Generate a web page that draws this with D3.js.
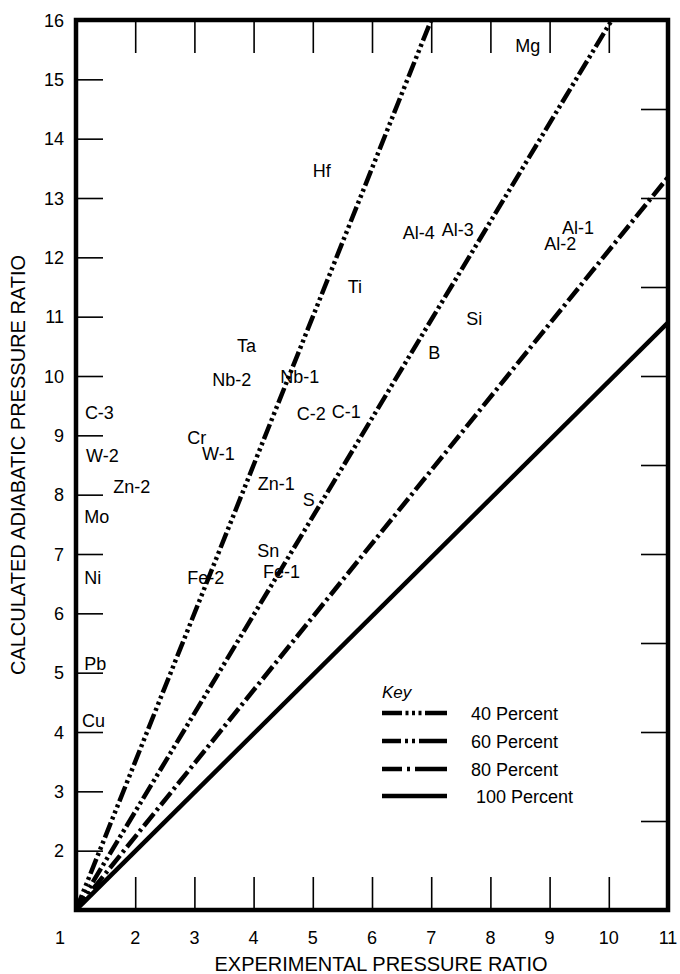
<!DOCTYPE html>
<html>
<head>
<meta charset="utf-8">
<script src="https://cdn.jsdelivr.net/npm/d3@7"></script>
<style>
  html, body { margin: 0; padding: 0; background: #fff; }
  svg { display: block; font-family: "Liberation Sans", Arial, sans-serif; }
</style>
</head>
<body>
<svg id="chart" width="680" height="974"></svg>
<script>
// ---------------- data ----------------
const xTickValues = [2, 3, 4, 5, 6, 7, 8, 9, 10];
const xTickLabels = [1, 2, 3, 4, 5, 6, 7, 8, 9, 10, 11];
const yTickValues = [2, 3, 4, 5, 6, 7, 8, 9, 10, 11, 12, 13, 14, 15];
const yTickLabels = [2, 3, 4, 5, 6, 7, 8, 9, 10, 11, 12, 13, 14, 15, 16];
const rightTickValues = [2.5, 4, 5.5, 7, 8.5, 10, 11.5, 13, 14.5];

const seriesNames = ["40 Percent", "60 Percent", "80 Percent", "100 Percent"];
const line40 = [[1, 1], [7.0, 16]];
const line60 = [[1, 1], [10.05, 16]];
const line80 = [[1, 1], [11, 13.35]];
const line100 = [[1, 1], [11, 10.9]];

const labelNames = ["Mg","Hf","Al-4","Al-3","Al-1","Al-2","Ti","Si","Ta","B","Nb-2","Nb-1",
  "C-3","C-2","C-1","Cr","W-2","W-1","Zn-1","Zn-2","S","Mo","Sn","Fe-1","Fe-2","Ni","Pb","Cu"];
const labelX = [8.42,5.00,6.52,7.18,9.21,8.91,5.59,7.59,3.72,6.95,3.30,4.45,
  1.15,4.73,5.32,2.88,1.17,3.13,4.07,1.63,4.83,1.14,4.06,4.16,2.88,1.14,1.14,1.10];
const labelY = [15.46,13.35,12.31,12.36,12.40,12.12,11.40,10.86,10.41,10.29,9.83,9.88,
  9.28,9.26,9.29,8.85,8.55,8.58,8.08,8.03,7.81,7.52,6.95,6.60,6.49,6.49,5.05,4.08];

// ---------------- layout ----------------
const svg = d3.select("#chart");
const L = 76, R = 668, T = 20, B = 910;
const x = d3.scaleLinear().domain([1, 11]).range([L, R]);
const y = d3.scaleLinear().domain([1, 16]).range([B, T]);

svg.append("defs").append("clipPath").attr("id", "plotclip")
  .append("rect").attr("x", L).attr("y", T).attr("width", R - L).attr("height", B - T);

// ---------------- axes (ticks) ----------------
const tickStyle = g => {
  g.select(".domain").remove();
  g.selectAll(".tick line").attr("stroke", "#000").attr("stroke-width", 1.6);
  g.selectAll(".tick text").remove();
};
svg.append("g").attr("transform", `translate(0,${B})`)
  .call(d3.axisTop(x).tickValues(xTickValues).tickSize(33)).call(tickStyle);
svg.append("g").attr("transform", `translate(0,${T})`)
  .call(d3.axisBottom(x).tickValues(xTickValues).tickSize(33)).call(tickStyle);
svg.append("g").attr("transform", `translate(${L},0)`)
  .call(d3.axisRight(y).tickValues(yTickValues).tickSize(27)).call(tickStyle);
svg.append("g").attr("transform", `translate(${R},0)`)
  .call(d3.axisLeft(y).tickValues(rightTickValues).tickSize(27)).call(tickStyle);

// tick labels
svg.append("g").selectAll("text").data(xTickLabels).join("text")
  .attr("x", d => d === 1 ? x(d) - 16 : x(d))
  .attr("y", 944)
  .attr("text-anchor", "middle")
  .attr("font-size", 18)
  .text(d => d);
svg.append("g").selectAll("text").data(yTickLabels).join("text")
  .attr("x", 64)
  .attr("y", d => y(d) + 6.5)
  .attr("text-anchor", "end")
  .attr("font-size", 18)
  .text(d => d);

// axis titles
svg.append("text").attr("x", 381).attr("y", 971).attr("text-anchor", "middle")
  .attr("font-size", 20).text("EXPERIMENTAL PRESSURE RATIO");
svg.append("text").attr("transform", `translate(25,${(T + B) / 2}) rotate(-90)`)
  .attr("text-anchor", "middle").attr("font-size", 20)
  .text("CALCULATED ADIABATIC PRESSURE RATIO");

// ---------------- lines ----------------
const dashes = ["16,3.5,3,3.5,3,3.5,3,3.5", "16,3.5,3,3.5,3,3.5", "16,4,3,4", null];
const lineGen = d3.line().x(d => x(d[0])).y(d => y(d[1]));
const seriesData = [line40, line60, line80, line100];
svg.append("g").attr("clip-path", "url(#plotclip)")
  .selectAll("path").data(seriesData).join("path")
  .attr("d", lineGen)
  .attr("fill", "none")
  .attr("stroke", "#000")
  .attr("stroke-width", 4.5)
  .attr("stroke-dasharray", (d, i) => dashes[i]);

// ---------------- frame ----------------
svg.append("rect").attr("x", L).attr("y", T).attr("width", R - L).attr("height", B - T)
  .attr("fill", "none").attr("stroke", "#000").attr("stroke-width", 4.5);

// ---------------- point labels ----------------
svg.append("g").selectAll("text").data(labelNames).join("text")
  .attr("x", (d, i) => x(labelX[i]))
  .attr("y", (d, i) => y(labelY[i]))
  .attr("font-size", 18)
  .text(d => d);

// ---------------- legend ----------------
const legendDashes = ["20,3.5,3,3.5,3,3.5,3,3.5,40", "19,4,3,4,3,4,40", "20,5,3,5,40", null];
const lg = svg.append("g");
lg.append("text").attr("x", 382).attr("y", 698).attr("font-size", 17)
  .attr("font-style", "italic").text("Key");
const legendY = [713, 741, 769, 796];
const legendTextX = [471, 471, 471, 476];
seriesNames.forEach((name, i) => {
  lg.append("line").attr("x1", 382).attr("x2", 447)
    .attr("y1", legendY[i]).attr("y2", legendY[i])
    .attr("stroke", "#000").attr("stroke-width", 4.5)
    .attr("stroke-dasharray", legendDashes[i]);
  lg.append("text").attr("x", legendTextX[i]).attr("y", legendY[i] + 6.5)
    .attr("font-size", 18).text(name);
});
</script>
</body>
</html>
